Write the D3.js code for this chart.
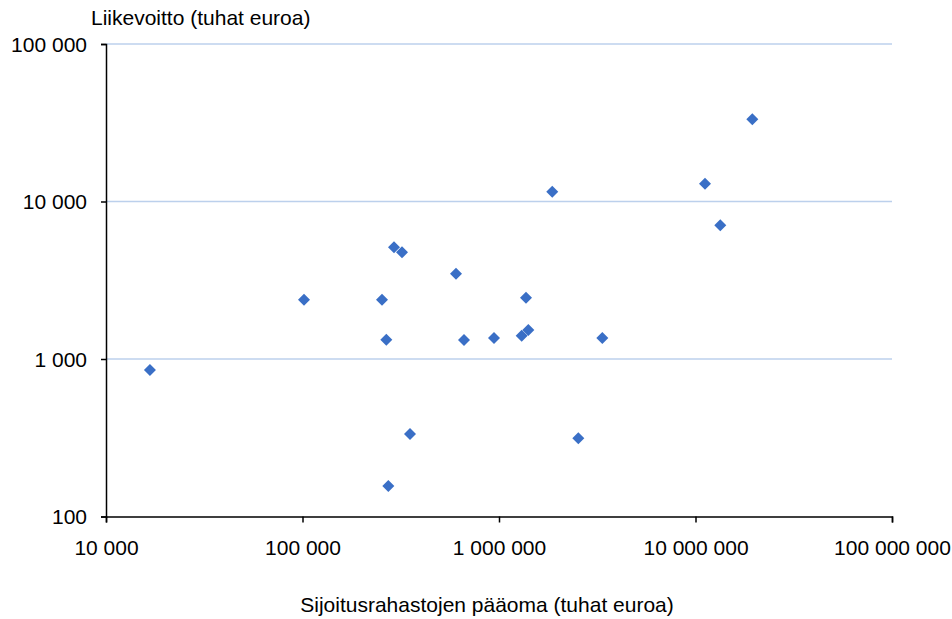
<!DOCTYPE html>
<html><head><meta charset="utf-8">
<script src="https://cdn.jsdelivr.net/npm/d3@7"></script>
<style>body{margin:0;background:#fff}svg{display:block}text{font-family:"Liberation Sans",Arial,sans-serif;font-size:21px;fill:#000}</style>
</head><body><svg id="c" width="952" height="619"></svg>
<script>
const capital = [16740, 101800, 253800, 267000, 292200, 321000, 604000, 352500, 273300, 663500, 943000, 1372000, 1305000, 1410000, 1867000, 3355000, 2533000, 19460000, 11180000, 13370000];
const profit  = [851, 2380, 2380, 1326, 5120, 4760, 3480, 334, 156, 1320, 1359, 2450, 1406, 1528, 11540, 1359, 314, 33260, 12980, 7060];
const xTicks = [1e4, 1e5, 1e6, 1e7, 1e8];
const yTicks = [100, 1000, 10000, 100000];
const xTitle = "Sijoitusrahastojen pääoma (tuhat euroa)";
const yTitle = "Liikevoitto (tuhat euroa)";

const fmt = v => d3.format(",")(v).replace(/,/g, " ");
const svg = d3.select("#c");
const x = d3.scaleLog().domain([1e4, 1e8]).range([106, 892]);
const y = d3.scaleLog().domain([100, 1e5]).range([516.5, 44]);

svg.append("g").selectAll("line").data(yTicks.filter(d => d > 100)).join("line")
  .attr("x1", x(1e4)).attr("x2", x(1e8)).attr("y1", d => y(d)).attr("y2", d => y(d))
  .attr("stroke", "#bcd0ec").attr("stroke-width", 1.5);

const gx = svg.append("g").attr("transform", `translate(0,${y(100)})`)
  .call(d3.axisBottom(x).tickValues(xTicks).tickFormat(fmt).tickSize(6).tickPadding(17.5));
const gy = svg.append("g").attr("transform", `translate(${x(1e4)},0)`)
  .call(d3.axisLeft(y).tickValues(yTicks).tickFormat(fmt).tickSize(5).tickPadding(14));
[gx, gy].forEach(g => {
  g.select(".domain").attr("stroke", "#000").attr("stroke-width", 1.5);
  g.selectAll(".tick line").attr("stroke", "#000").attr("stroke-width", 1.5);
  g.selectAll("text").attr("font-size", 21).attr("font-family", "Liberation Sans, Arial, sans-serif").attr("fill", "#000");
});
gy.selectAll(".tick text").attr("dy", "0.35em");

const r = 6;
svg.append("g").selectAll("path").data(capital.map((c, i) => [c, profit[i]])).join("path")
  .attr("d", `M0,${-r}L${r},0L0,${r}L${-r},0Z`)
  .attr("transform", d => `translate(${x(d[0])},${y(d[1])})`)
  .attr("fill", "#3a6fc6");

svg.append("text").attr("x", 91).attr("y", 25).text(yTitle);
svg.append("text").attr("x", 487).attr("y", 612).attr("text-anchor", "middle").text(xTitle);
</script></body></html>
